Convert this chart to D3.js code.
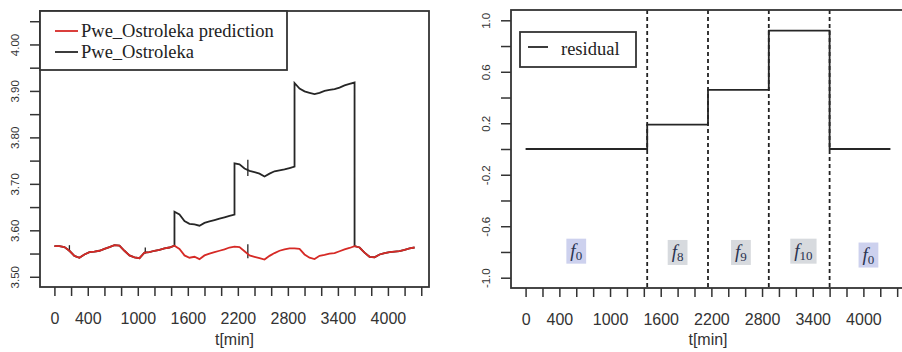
<!DOCTYPE html>
<html>
<head>
<meta charset="utf-8">
<script src="https://cdn.jsdelivr.net/npm/d3@7"></script>
<style>
  body { margin: 0; background: #fff; }
  svg { display: block; }
</style>
</head>
<body>
<svg id="chart" width="902" height="352"></svg>
<script>
// time grid (minutes) and predicted pressure
const time = d3.range(0, 4321, 60);
const predicted = [
  3.566, 3.566, 3.564, 3.556, 3.545, 3.541, 3.548, 3.553, 3.554, 3.556,
  3.560, 3.564, 3.568, 3.567, 3.556, 3.546, 3.542, 3.540, 3.552, 3.553,
  3.556, 3.558, 3.561, 3.563, 3.567, 3.560, 3.546, 3.541, 3.543, 3.538,
  3.546, 3.550, 3.553, 3.556, 3.559, 3.563, 3.565, 3.564, 3.555, 3.546,
  3.543, 3.540, 3.537, 3.545, 3.551, 3.556, 3.559, 3.561, 3.561, 3.560,
  3.548, 3.541, 3.538, 3.545, 3.547, 3.550, 3.551, 3.555, 3.559, 3.562,
  3.566, 3.563, 3.552, 3.543, 3.542, 3.548, 3.551, 3.553, 3.554, 3.555,
  3.558, 3.561, 3.563
];

// measured pressure during the three fault steps (every 60 min)
const stepStart = [1440, 2160, 2880];
const actualSteps = [
  [3.640, 3.634, 3.620, 3.614, 3.613, 3.610, 3.616, 3.619, 3.622, 3.625, 3.628, 3.631, 3.634],
  [3.744, 3.742, 3.733, 3.728, 3.725, 3.722, 3.716, 3.722, 3.727, 3.729, 3.731, 3.734, 3.737],
  [3.917, 3.905, 3.899, 3.896, 3.893, 3.896, 3.900, 3.902, 3.904, 3.907, 3.912, 3.915, 3.918]
];
// short vertical glitches in the record
const spikeT  = [180, 1090, 2320, 2320];
const spikeLo = [3.554, 3.550, 3.540, 3.717];
const spikeHi = [3.568, 3.563, 3.570, 3.752];

// residual panel
const faultBounds = [0, 1440, 2160, 2880, 3600, 4320];
const residual = [0, 0.19, 0.46, 0.92, 0];
const faultNames = ['0', '8', '9', '10', '0'];
const labelT = [600, 1800, 2550, 3290, 4060];
const labelV = [-0.79, -0.80, -0.80, -0.79, -0.82];
const labelFill = ['#cdd1ee', '#d7dade', '#d7dade', '#d7dade', '#cdd1ee'];

const xTicks = d3.range(0, 4401, 200);
const xLabels = [0, 400, 1000, 1600, 2200, 2800, 3400, 4000];
const leftTicks = d3.range(3.50, 4.051, 0.05);
const leftLabels = ['3.50', '3.60', '3.70', '3.80', '3.90', '4.00'];
const rightTicks = d3.range(-1.0, 1.01, 0.2);
const rightLabels = ['-1.0', '-0.6', '-0.2', '0.2', '0.6', '1.0'];

const ink = '#333';
const sans = 'Liberation Sans, Arial, sans-serif';
const serif = 'Liberation Serif, Times New Roman, serif';

const svg = d3.select('#chart');

function panel(x0, x1, y0, y1, yDomain, yTicks, yLabels, digits) {
  const x = d3.scaleLinear().domain([-172.8, 4492.8]).range([x0, x1]);
  const y = d3.scaleLinear().domain(yDomain).range([y1, y0]);
  const g = svg.append('g');

  const xa = g.append('g')
      .attr('transform', `translate(0,${y1})`)
      .call(d3.axisBottom(x).tickValues(xTicks).tickSize(9).tickPadding(17)
        .tickFormat(d => xLabels.includes(d) ? d : ''));
  xa.select('.domain').remove();
  xa.selectAll('line').attr('stroke', ink).attr('stroke-width', 1.5);
  xa.selectAll('text').attr('fill', ink).style('font', `16px ${sans}`);

  const ya = g.append('g')
      .attr('transform', `translate(${x0},0)`)
      .call(d3.axisLeft(y).tickValues(yTicks).tickSize(10)
        .tickFormat(d => { const s = d.toFixed(digits); return yLabels.includes(s) ? s : ''; }));
  ya.select('.domain').remove();
  ya.selectAll('line').attr('stroke', ink).attr('stroke-width', 1.5);
  ya.selectAll('text')
      .attr('fill', ink)
      .attr('x', 0).attr('y', -21).attr('dy', null)
      .attr('text-anchor', 'middle')
      .attr('transform', 'rotate(-90)')
      .style('font', `11.5px ${sans}`);

  g.append('text')
      .attr('x', (x0 + x1) / 2).attr('y', 345)
      .attr('text-anchor', 'middle').attr('fill', ink)
      .style('font', `16px ${sans}`)
      .text('t[min]');

  return { g, x, y, box: () => g.append('rect')
      .attr('x', x0).attr('y', y0).attr('width', x1 - x0).attr('height', y1 - y0)
      .attr('fill', 'none').attr('stroke', ink).attr('stroke-width', 1.8) };
}

// ---------- left panel ----------
const L = panel(40, 429, 11, 287, [3.478, 4.072], leftTicks, leftLabels, 2);

const actualPts = [];
time.forEach((t, i) => { if (t <= 1440) actualPts.push([t, predicted[i]]); });
stepStart.forEach((s, k) => actualSteps[k].forEach((v, j) => actualPts.push([s + j * 60, v])));
time.forEach((t, i) => { if (t >= 3600) actualPts.push([t, predicted[i]]); });

const lineL = d3.line().x(d => L.x(d[0])).y(d => L.y(d[1]));

L.g.append('path').datum(actualPts)
    .attr('d', lineL).attr('fill', 'none')
    .attr('stroke', '#262626').attr('stroke-width', 1.8);

L.g.selectAll('.spike').data(spikeT).join('line')
    .attr('x1', d => L.x(d)).attr('x2', d => L.x(d))
    .attr('y1', (d, i) => L.y(spikeLo[i])).attr('y2', (d, i) => L.y(spikeHi[i]))
    .attr('stroke', '#262626').attr('stroke-width', 1.3);

L.g.append('path').datum(time.map((t, i) => [t, predicted[i]]))
    .attr('d', lineL).attr('fill', 'none')
    .attr('stroke', '#d62a26').attr('stroke-width', 1.8);

L.box();

// legend
const lg = L.g.append('g');
lg.append('rect').attr('x', 40).attr('y', 11).attr('width', 247).attr('height', 59)
    .attr('fill', '#fff').attr('stroke', ink).attr('stroke-width', 1.8);
[['Pwe_Ostroleka prediction', '#d62a26', 31], ['Pwe_Ostroleka', '#262626', 52]].forEach(([t, c, yy]) => {
  lg.append('line').attr('x1', 55).attr('x2', 78).attr('y1', yy).attr('y2', yy)
      .attr('stroke', c).attr('stroke-width', 1.8);
  lg.append('text').attr('x', 81).attr('y', yy + 6).attr('fill', '#222')
      .style('font', `18.5px ${serif}`).text(t);
});

// ---------- right panel ----------
const R = panel(511, 905, 10, 288, [-1.08, 1.08], rightTicks, rightLabels, 1);

R.g.selectAll('.fault').data(faultBounds.slice(1, 5)).join('line')
    .attr('x1', d => R.x(d)).attr('x2', d => R.x(d))
    .attr('y1', 10).attr('y2', 288)
    .attr('stroke', '#222').attr('stroke-width', 1.8)
    .attr('stroke-dasharray', '4,3');

const residPts = [];
residual.forEach((v, i) => { residPts.push([faultBounds[i], v], [faultBounds[i + 1], v]); });
R.g.append('path').datum(residPts)
    .attr('d', d3.line().x(d => R.x(d[0])).y(d => R.y(d[1])))
    .attr('fill', 'none').attr('stroke', '#262626').attr('stroke-width', 1.8);

faultNames.forEach((n, i) => {
  const lab = R.g.append('g');
  const txt = lab.append('text')
      .attr('x', R.x(labelT[i])).attr('y', R.y(labelV[i]) + 6)
      .attr('text-anchor', 'middle').attr('fill', '#2a3350');
  txt.append('tspan').style('font', `italic 19px ${serif}`).text('f');
  txt.append('tspan').attr('dy', 3).style('font', `13px ${serif}`).text(n);
  const bb = txt.node().getBBox();
  lab.insert('rect', 'text')
      .attr('x', bb.x - 4).attr('y', bb.y - 1)
      .attr('width', bb.width + 8).attr('height', bb.height + 2)
      .attr('fill', labelFill[i]);
});

R.box();

const rl = R.g.append('g');
rl.append('rect').attr('x', 520).attr('y', 32).attr('width', 116).attr('height', 35)
    .attr('fill', '#fff').attr('stroke', ink).attr('stroke-width', 1.8);
rl.append('line').attr('x1', 528).attr('x2', 548).attr('y1', 47).attr('y2', 47)
    .attr('stroke', '#262626').attr('stroke-width', 1.8);
rl.append('text').attr('x', 561).attr('y', 55).attr('fill', '#222')
    .style('font', `18.5px ${serif}`).text('residual');
</script>
</body>
</html>
